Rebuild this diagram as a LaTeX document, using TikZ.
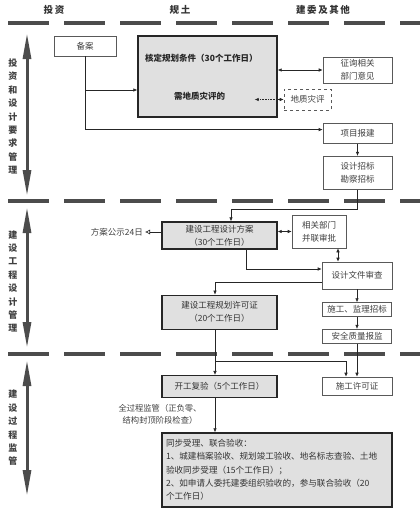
\documentclass[tikz,border=0pt]{standalone}
\usepackage{fontspec}
\setmainfont{Noto Sans CJK SC}
\usetikzlibrary{arrows.meta}
\usetikzlibrary{positioning}
\tikzset{>={Latex[length=4pt,width=3.5pt]}, font=\fontsize{8.5}{13}\selectfont}
\tikzstyle{block} = [draw=black!85, line width=1.3pt, fill=black!12, rectangle, align=center, inner sep=0pt, text=black!80]
\tikzstyle{wbox} = [draw=black!65, line width=0.6pt, fill=white, rectangle, align=center, inner sep=0pt, text=black!75]
\tikzstyle{sep} = [line width=3.5pt, black!70, dash pattern=on 41pt off 15pt]
\tikzstyle{phase} = [line width=3pt, black!70, {Triangle[length=26pt,width=8pt]}-{Triangle[length=26pt,width=8pt]}]
\tikzstyle{vlabel} = [align=center, inner sep=0pt, font=\fontsize{9}{13.4}\selectfont\bfseries, text=black!75]
\tikzstyle{head} = [inner sep=0pt, font=\fontsize{9.5}{10}\selectfont\bfseries, text=black!80]
\tikzstyle{line} = [draw, line width=0.6pt, black!85]

\begin{document}
\begin{tikzpicture}[x=1pt, y=-1pt]
		\useasboundingbox (0,0) rectangle (420,514);

		% heads and phase separators
		\node [head] (h_tz) at (54,10) {投\,资};
		\node [head] (h_gt) at (180,10) {规\,土};
		\node [head] (h_jw) at (323,10) {建\,委\,及\,其\,他};
		\foreach \y in {23,201,354}
			\draw [sep] (8,\y) -- (420,\y);

		\draw [phase] (27,33) -- (27,196);
		\draw [phase] (27,207) -- (27,348);
		\draw [phase] (27,360) -- (27,496);
		\node [vlabel] (p1) at (13,116.5) {投\\资\\和\\设\\计\\要\\求\\管\\理};
		\node [vlabel] (p2) at (13,281.5) {建\\设\\工\\程\\设\\计\\管\\理};
		\node [vlabel] (p3) at (13,428) {建\\设\\过\\程\\监\\管};

		% first phase
		\node [wbox, minimum width=62pt, minimum height=20pt] (beian) at (85,46) {备案};
		\node [block, minimum width=139pt, minimum height=81pt] (hd_gh) at (207.5,76.5) {};
		\node [anchor=west, inner sep=0pt, font=\fontsize{8.5}{13}\selectfont\bfseries, text=black!85] (hd_t) at (145,58) {核定规划条件（30个工作日）};
		\node [inner sep=0pt, font=\fontsize{8.5}{13}\selectfont\bfseries, text=black!85] (dz_xt) at (199.5,96) {需地质灾评的};
		\node [wbox, minimum width=69pt, minimum height=26pt] (zx_yj) at (357.5,70) {征询相关\\部门意见};
		\node [wbox, dashed, minimum width=47pt, minimum height=21pt] (dz_zp) at (307.5,99.5) {地质灾评};
		\node [wbox, minimum width=69pt, minimum height=20pt, below=40pt of zx_yj] (xm_bj) {项目报建};
		\node [wbox, minimum width=69pt, minimum height=33pt, below=12pt of xm_bj] (sj_zb) {设计招标\\勘察招标};

		% second phase
		\node [block, minimum width=115pt, minimum height=27pt] (fa) at (219.5,235.5) {建设工程设计方案\\（30个工作日）};
		\node [anchor=east, inner sep=0pt, text=black!75] (gs) at (143,232) {方案公示24日};
		\node [wbox, minimum width=54pt, minimum height=33pt] (bl_sp) at (319,231.5) {相关部门\\并联审批};
		\node [wbox, minimum width=70pt, minimum height=27pt] (sj_sc) at (357,275.5) {设计文件审查};
		\node [block, minimum width=115pt, minimum height=34pt, below=45pt of fa] (gh_xk) {建设工程规划许可证\\（20个工作日）};
		\node [wbox, minimum width=69pt, minimum height=14pt, below=13pt of sj_sc] (jl_zb) {施工、监理招标};
		\node [wbox, minimum width=69pt, minimum height=14pt, below=12pt of jl_zb] (aq_bj) {安全质量报监};

		% third phase
		\node [block, minimum width=115pt, minimum height=22pt, below=45pt of gh_xk] (kg_fy) {开工复验（5个工作日）};
		\node [wbox, minimum width=70pt, minimum height=18pt] (sg_xk) at (357,386) {施工许可证};
		\node [inner sep=0pt, align=center, text=black!75, font=\fontsize{8.3}{12}\selectfont] (jg_t) at (160,414) {全过程监管（正负零、\\结构封顶阶段检查）};
		\node [block, minimum width=230pt, minimum height=74pt, align=left, text width=222pt, font=\fontsize{8.6}{13.3}\selectfont] (ys) at (277,470)
			{同步受理、联合验收：\\1、城建档案验收、规划竣工验收、地名标志查验、土地\\验收同步受理（15个工作日）；\\2、如申请人委托建委组织验收的，参与联合验收（20\\个工作日）};

		\coordinate (b_ba) at (85,90);
		\coordinate (b_gh) at (215,361);

		\draw [line, ->] (beian.south) |- ([yshift=4pt]xm_bj.west);
		\draw [line, ->] (b_ba) -- (b_ba -| hd_gh.west);
		\draw [line, <->] (hd_gh.east |- zx_yj) -- (zx_yj);
		\draw [line, <->, densely dotted] ([xshift=-29pt]dz_zp.west) -- (dz_zp.west);
		\draw [line, ->] (xm_bj) -- (sj_zb);

		\draw [line, ->] (sj_zb.south) -- ++(0,20) -| ([xshift=11.5pt]fa.north);
		\draw [line, -{Latex[open,length=5pt,width=5pt]}] ([yshift=3.5pt]fa.west) -- ([xshift=2pt]gs.east);
		\draw [line, <->] (fa.east |- bl_sp) -- (bl_sp);
		\draw [line, <->] ([xshift=19pt]bl_sp.south) -- ([xshift=19pt]bl_sp.south |- sj_sc.north);
		\draw [line, ->] ([xshift=26.5pt]fa.south) |- ([yshift=6.5pt]sj_sc.west);
		\draw [line, ->] ([yshift=-6.5pt]sj_sc.west) -| ([xshift=-4.5pt]gh_xk.north);
		\draw [line, ->] (sj_sc) -- (jl_zb);
		\draw [line, ->] (jl_zb) -- (aq_bj);
		\draw [line, ->] (aq_bj) -- (sg_xk);

		\draw [line, ->] ([xshift=-4.5pt]gh_xk.south) -- ([xshift=-4.5pt]kg_fy.north);
		\draw [line, ->] (b_gh) -| ([xshift=-11pt]sg_xk.north);
		\draw [line, ->] ([xshift=-4.5pt]kg_fy.south) -- ([xshift=-4.5pt]kg_fy.south |- ys.north);

	\end{tikzpicture}
\end{document}
